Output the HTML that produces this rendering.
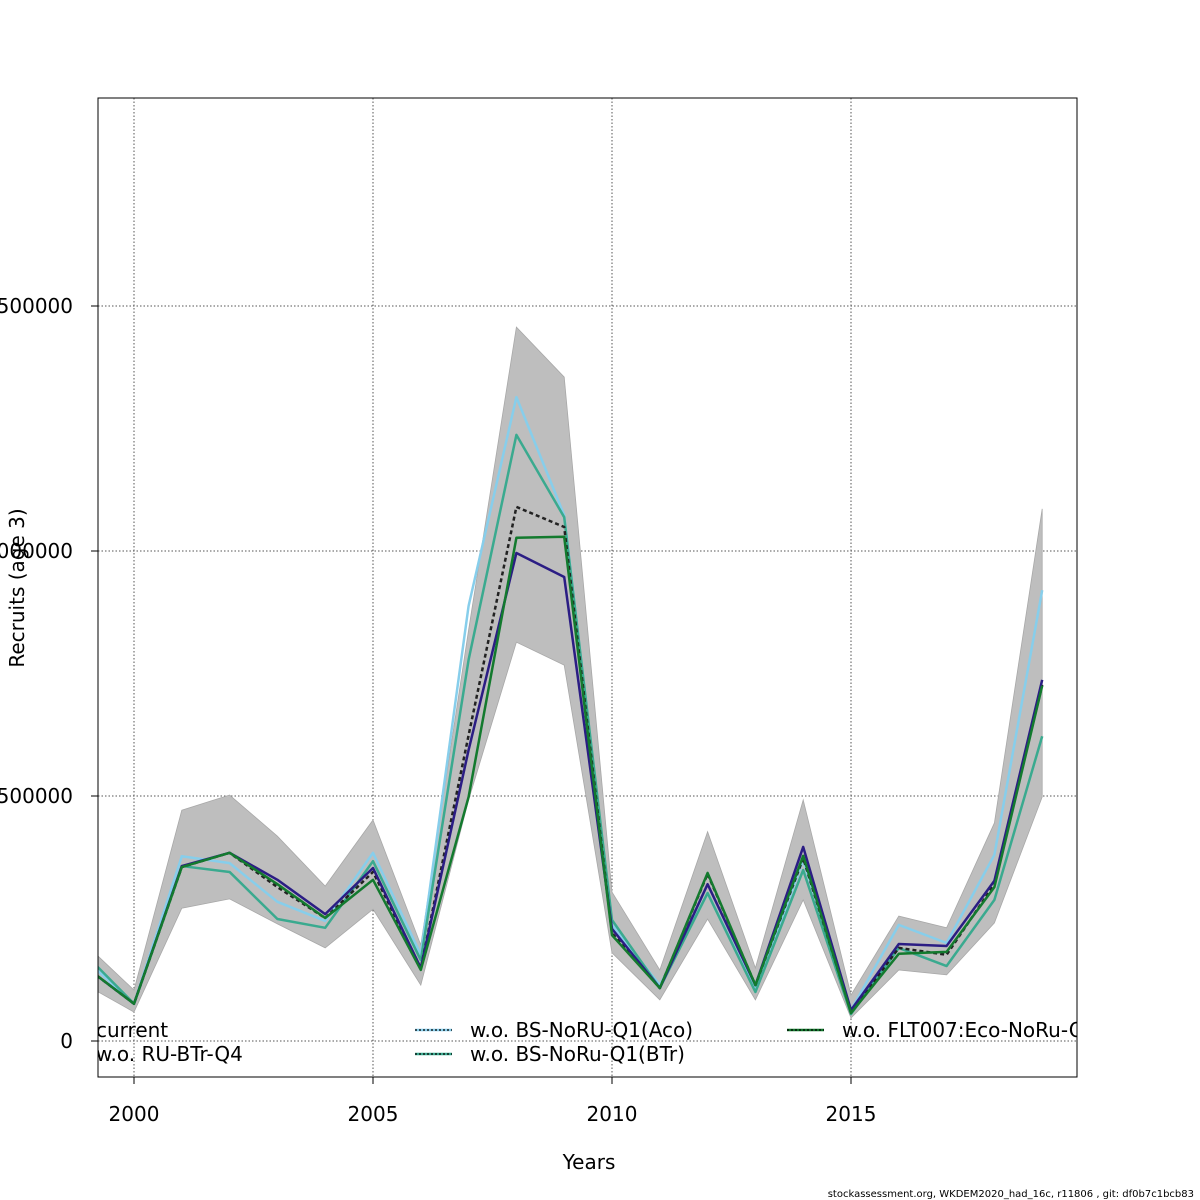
<!DOCTYPE html>
<html><head><meta charset="utf-8"><style>
html,body{margin:0;padding:0;background:#fff;}
svg{display:block;font-family:"DejaVu Sans","Liberation Sans",sans-serif;}
</style></head><body>
<svg id="chart" width="1200" height="1200" viewBox="0 0 1200 1200">
<defs><clipPath id="plotclip"><rect x="98" y="98" width="979" height="979"/></clipPath></defs>
<g id="grid"></g>
<g id="band" clip-path="url(#plotclip)"></g>
<g id="lines" clip-path="url(#plotclip)"></g>
<rect x="98" y="98" width="979" height="979" fill="none" stroke="#000" stroke-width="1"/>
<g id="axes"></g>
<g id="legend" clip-path="url(#plotclip)"></g>
<text x="24" y="588" font-size="20" text-anchor="middle" transform="rotate(-90 24 588)">Recruits (age 3)</text>
<text x="589" y="1169" font-size="20" text-anchor="middle">Years</text>
<text x="1194" y="1197" font-size="10" text-anchor="end">stockassessment.org, WKDEM2020_had_16c, r11806 , git: df0b7c1bcb83</text>
</svg>
<script>
const years = [1999,2000,2001,2002,2003,2004,2005,2006,2007,2008,2009,2010,2011,2012,2013,2014,2015,2016,2017,2018,2019];
const bandUpper = [196,104,471,502,418,316,451,196,839,1457,1355,304,145,427,149,492,94,255,231,445,1086];
const bandLower = [114,59,271,290,239,190,269,114,492,814,767,180,84,249,84,288,47,145,135,241,498];
const seriesCurrent = [150,76,357,384,329,259,353,149,594,996,947,229,108,320,114,396,63,198,194,327,737];
const seriesAco = [165,76,377,363,284,245,384,176,888,1314,1073,237,114,302,104,369,63,237,200,380,920];
const seriesBTr = [175,76,357,345,249,231,367,165,778,1237,1069,247,108,302,100,349,55,190,153,288,622];
const seriesRU = [150,76,355,384,314,251,345,149,624,1090,1049,220,108,341,114,373,59,190,176,320,727];
const seriesFLT = [150,76,355,384,320,251,329,145,498,1027,1029,216,108,343,114,378,57,178,182,314,725];
const yTicks = [0,500000,1000000,1500000];
const xTicks = [2000,2005,2010,2015];
const legendLabels = ["current","w.o. RU-BTr-Q4","w.o. BS-NoRU-Q1(Aco)","w.o. BS-NoRu-Q1(BTr)","w.o. FLT007:Eco-NoRu-Q1"];

const NS="http://www.w3.org/2000/svg";
const X = y => 134 + (y-2000)*47.8;
const Y = v => 1041 - v*1000/500000*245;
function mk(tag, parent, attrs){const e=document.createElementNS(NS,tag);for(const k in attrs)e.setAttribute(k,attrs[k]);parent.appendChild(e);return e;}
const grid=document.getElementById('grid'), axes=document.getElementById('axes');
yTicks.forEach(t=>{
  const l=mk('line',grid,{x1:98,x2:1077,y1:Y(t/1000),y2:Y(t/1000),stroke:'#555','stroke-dasharray':'1.5 2','stroke-width':1});
  
  
  const tk=mk('line',axes,{x1:91,x2:98,y1:Y(t/1000),y2:Y(t/1000),stroke:'#000'});
  
  
  const tx=mk('text',axes,{x:73,y:Y(t/1000)+7,'font-size':20,'text-anchor':'end'});
  tx.textContent=String(t);
  
  
});
xTicks.forEach(t=>{
  const l=mk('line',grid,{x1:X(t),x2:X(t),y1:98,y2:1077,stroke:'#555','stroke-dasharray':'1.5 2','stroke-width':1});
  
  
  const tk=mk('line',axes,{x1:X(t),x2:X(t),y1:1077,y2:1084,stroke:'#000'});
  
  
  const tx=mk('text',axes,{x:X(t),y:1121,'font-size':20,'text-anchor':'middle'});
  tx.textContent=String(t);
  
  
});
let pts=years.map((y,i)=>X(y)+','+Y(bandUpper[i])).concat(years.slice().reverse().map((y,j)=>{const i=years.length-1-j;return X(y)+','+Y(bandLower[i]);}));
const band=mk('polygon',document.getElementById('band'),{points:pts.join(' '),fill:'#bebebe',stroke:'#a8a8a8','stroke-width':0.8});


const linesG=document.getElementById('lines');
function line(arr,color,name,dash){
  const p=mk('polyline',linesG,{points:years.map((y,i)=>X(y)+','+Y(arr[i])).join(' '),fill:'none',stroke:color,'stroke-width':2.5,'stroke-linejoin':'round'});
  if(dash)p.setAttribute('stroke-dasharray',dash);
  
  
}
line(seriesAco,'#87ceeb','line-wo-aco');
line(seriesBTr,'#3aaa8f','line-wo-btr');
line(seriesRU,'#222','line-wo-ru-btr','4 3');
line(seriesCurrent,'#2b1d84','line-current');
line(seriesFLT,'#137a2e','line-wo-flt007');
const lg=document.getElementById('legend');
const legPos=[[96,1030,null],[96,1054,null],[470,1030,'#87ceeb'],[470,1054,'#3aaa8f'],[842,1030,'#137a2e']];
legendLabels.forEach((lab,i)=>{
  const [x,y,c]=legPos[i];
  if(c){
    const s=mk('line',lg,{x1:x-55,x2:x-18,y1:y,y2:y,stroke:c,'stroke-width':2.5});
    
    
    const d=mk('line',lg,{x1:x-55,x2:x-18,y1:y,y2:y,stroke:'#000','stroke-width':1.2,'stroke-dasharray':'2 2'});
    
    
  }
  const t=mk('text',lg,{x:x,y:y+7,'font-size':20});
  t.textContent=lab;
  
  
});
</script>
</body></html>
